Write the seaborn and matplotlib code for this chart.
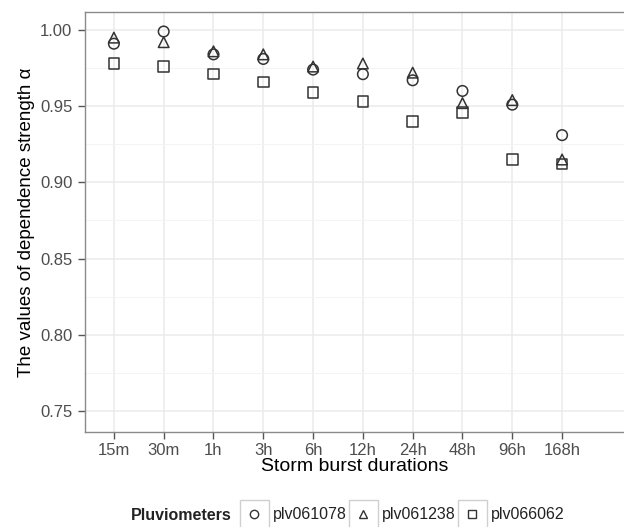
import matplotlib
matplotlib.use("Agg")
import matplotlib.pyplot as plt
from matplotlib.lines import Line2D
from matplotlib.patches import Rectangle
import seaborn as sns
import pandas as pd
import numpy as np

durations = ["15m", "30m", "1h", "3h", "6h", "12h", "24h", "48h", "96h", "168h"]
plv061078 = [0.991, 0.999, 0.984, 0.981, 0.974, 0.971, 0.967, 0.960, 0.951, 0.931]
plv061238 = [0.995, 0.992, 0.986, 0.984, 0.976, 0.978, 0.972, 0.952, 0.954, 0.915]
plv066062 = [0.978, 0.976, 0.971, 0.966, 0.959, 0.953, 0.940, 0.946, 0.915, 0.912]
stations = ["plv061078", "plv061238", "plv066062"]
y_ticks = [0.75, 0.80, 0.85, 0.90, 0.95, 1.00]

rows = []
for name, vals in zip(stations, [plv061078, plv061238, plv066062]):
    for d, v in zip(durations, vals):
        rows.append({"Duration": d, "alpha": v, "Pluviometers": name})
df = pd.DataFrame(rows)
df["x"] = df["Duration"].map({d: i for i, d in enumerate(durations)})

sns.set_theme(style="white")
plt.rcParams["font.family"] = ["Liberation Sans", "DejaVu Sans"]

fig = plt.figure(figsize=(6.24, 5.27), dpi=100)
ax = fig.add_axes([85 / 624, 1 - 432 / 527, 1 - 85 / 624, (432 - 12) / 527])

markers = {"plv061078": "o", "plv061238": "^", "plv066062": "s"}
edge = "#333333"
sns.scatterplot(data=df, x="x", y="alpha", style="Pluviometers", markers=markers,
                style_order=stations, s=58, facecolors="none", edgecolor=edge,
                linewidth=1.1, legend=False, ax=ax, zorder=3)
for coll in ax.collections:
    coll.set_facecolor("none")
    coll.set_edgecolor(edge)
    coll.set_linewidth(1.1)

ax.set_xlim(-0.58, -0.58 + 539 / 49.8)
ax.set_ylim(0.7362, 1.0118)
ax.set_xticks(range(len(durations)))
ax.set_xticklabels(durations)
ax.set_yticks(y_ticks)
ax.set_yticklabels([f"{t:.2f}" for t in y_ticks])
ax.set_yticks(np.arange(0.775, 1.0, 0.05), minor=True)

ax.grid(which="major", color="#ebebeb", linewidth=1.1, zorder=0)
ax.grid(which="minor", axis="y", color="#f3f3f3", linewidth=0.6, zorder=0)
ax.set_axisbelow(True)

for side in ["left", "top", "bottom"]:
    ax.spines[side].set_color("#8a8a8a")
    ax.spines[side].set_linewidth(1.0)
ax.spines["right"].set_visible(False)

ax.tick_params(axis="both", which="major", direction="out", length=5, width=1,
               color="#555555", labelsize=12, labelcolor="#4d4d4d",
               left=True, bottom=True)
ax.tick_params(axis="y", which="major", pad=4)
ax.tick_params(axis="x", which="major", pad=3)
ax.tick_params(axis="y", which="minor", length=0)

ax.set_xlabel("Storm burst durations", fontsize=14, color="black", labelpad=0)
ax.set_ylabel("The values of dependence strength \u03b1", fontsize=13.5, color="black", labelpad=4)

handles = [Line2D([], [], linestyle="none", marker=markers[s], markersize=6,
                  markerfacecolor="none", markeredgecolor=edge, markeredgewidth=1.0)
           for s in stations]
leg = fig.legend(handles, stations, ncol=3, loc="center",
                 bbox_to_anchor=(402 / 624, 1 - 515 / 527), frameon=False,
                 fontsize=11.5, handlelength=1.8, handletextpad=0.25,
                 columnspacing=0.15, borderpad=0.2)
for t in leg.get_texts():
    t.set_color("#222222")

fig.text(232 / 624, 1 - 515 / 527, "Pluviometers", ha="right", va="center",
         fontsize=11.5, fontweight="bold", color="#222222")

fig.canvas.draw()
renderer = fig.canvas.get_renderer()
for h in leg.legend_handles:
    bb = h.get_window_extent(renderer)
    cx, cy = (bb.x0 + bb.x1) / 2, (bb.y0 + bb.y1) / 2
    w, hh = 29, 28
    rect = Rectangle(((cx - w / 2) / fig.bbox.width, (cy - hh / 2) / fig.bbox.height),
                     w / fig.bbox.width, hh / fig.bbox.height,
                     transform=fig.transFigure, fill=False, edgecolor="#d0d0d0",
                     linewidth=1.0, zorder=0)
    fig.add_artist(rect)

fig.savefig("out.png", dpi=100)
